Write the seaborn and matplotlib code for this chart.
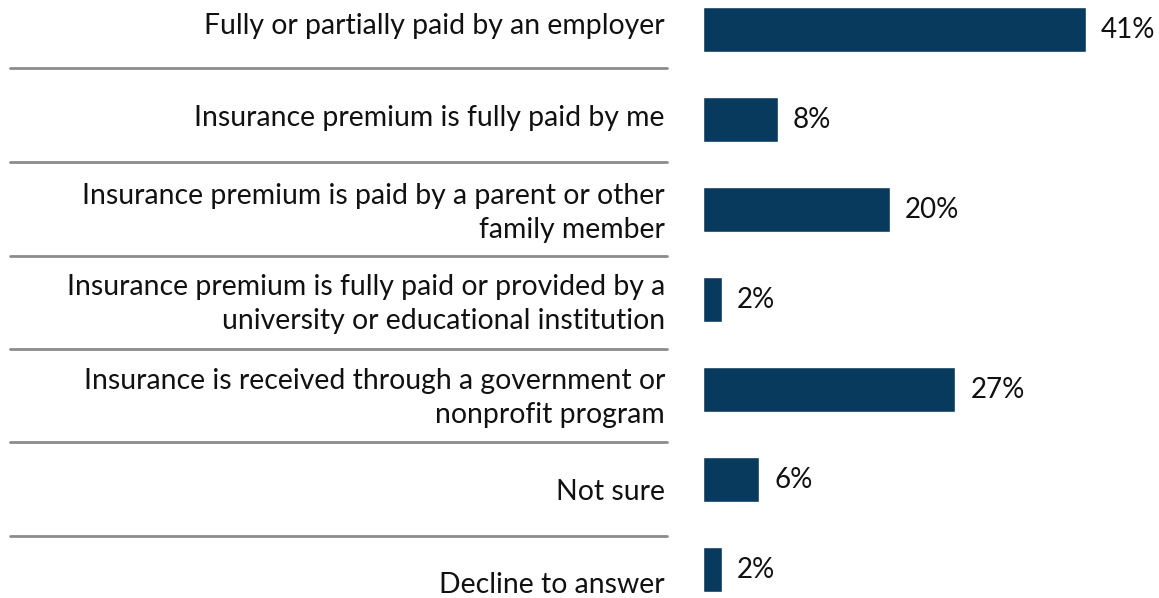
import matplotlib
matplotlib.use("Agg")
import matplotlib.pyplot as plt
from matplotlib.lines import Line2D
import seaborn as sns
import pandas as pd

categories = [
    "Fully or partially paid by an employer",
    "Insurance premium is fully paid by me",
    "Insurance premium is paid by a parent or other\nfamily member",
    "Insurance premium is fully paid or provided by a\nuniversity or educational institution",
    "Insurance is received through a government or\nnonprofit program",
    "Not sure",
    "Decline to answer",
]
values = [41, 8, 20, 2, 27, 6, 2]
value_labels = ["41%", "8%", "20%", "2%", "27%", "6%", "2%"]

# layout (pixels)
W, H = 1159, 598
label_y_px = [26, 118, 213, 304, 398, 492, 585]
sep_y_px = [68, 162, 256, 349, 442, 536]
bar_left_px = 703
px_per_unit = 9.333
bar_color = "#083a5e"

sns.set_theme(style="white")
plt.rcParams["font.family"] = ["Lato", "DejaVu Sans"]

fig = plt.figure(figsize=(W / 100, H / 100), dpi=100)
ax = fig.add_axes([bar_left_px / W, 0, (W - bar_left_px) / W, 1])

df = pd.DataFrame({"cat": categories, "val": values})
sns.barplot(data=df, x="val", y="cat", orient="h", color=bar_color,
            width=0.5, ax=ax, saturation=1)

ax.set_xlim(0, (W - bar_left_px) / px_per_unit)
ax.set_ylim(6 + 28.5 / 90, -29.5 / 90)
ax.set_xlabel("")
ax.set_ylabel("")
ax.set_xticks([])
ax.set_yticks([])
for s in ax.spines.values():
    s.set_visible(False)

ax.bar_label(ax.containers[0], labels=value_labels, padding=11,
             fontsize=20, color="#111111")

for cat, ypx in zip(categories, label_y_px):
    fig.text(665 / W, 1 - ypx / H, cat, ha="right", va="center",
             fontsize=20.4, color="#111111", linespacing=1.42, multialignment="right")

for ypx in sep_y_px:
    fig.add_artist(Line2D([10 / W, 667 / W], [1 - ypx / H] * 2,
                          color="#8c8c8c", linewidth=2.0))

fig.savefig("out.png", dpi=100)
